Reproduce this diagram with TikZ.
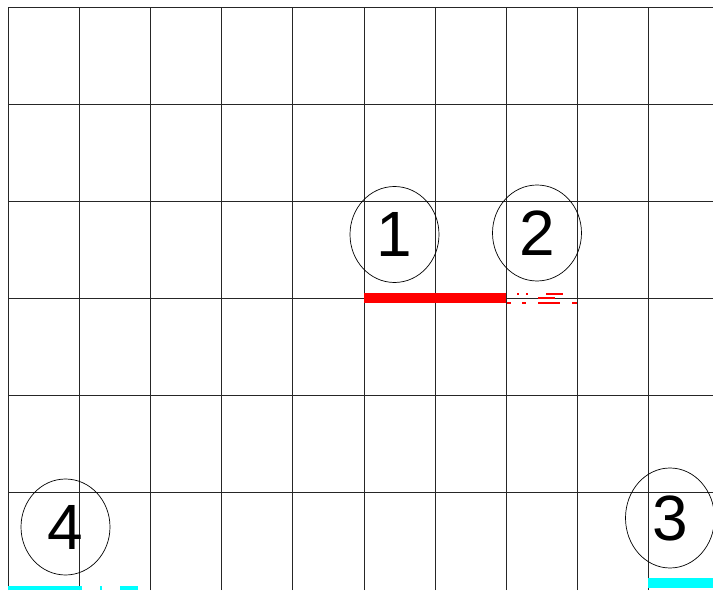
\documentclass[tikz,border=0pt]{standalone}
\usepackage{fontspec}
\setmainfont{Liberation Sans}
\usepackage{xcolor}
\usetikzlibrary{shapes.geometric}

\definecolor{aqua}{RGB}{0,255,255}
\definecolor{pured}{RGB}{255,0,0}

\tikzset{
	gridline/.style={line width=0.8pt,black!85},
	numring/.style={draw,ellipse,line width=0.7pt,inner sep=0pt,minimum width=89pt,minimum height=96pt,font=\fontsize{64}{64}\selectfont},
	redbar/.style={draw=pured,line width=10pt},
	redbit/.style={draw=pured,line width=2.2pt},
	cyanbar/.style={draw=aqua,line width=4pt}
}

\begin{document}
\begin{tikzpicture}[x=1pt,y=1pt]
\useasboundingbox (0,0) rectangle (713,590);
	% grid
	\draw[gridline] (8,0) -- (8,583) (79,0) -- (79,583) (150,0) -- (150,583)
		(221,0) -- (221,583) (292,0) -- (292,583) (364,0) -- (364,583)
		(435,0) -- (435,583) (506,0) -- (506,583) (577,0) -- (577,583)
		(648,0) -- (648,583);
	\draw[gridline] (8,583) -- (713,583) (8,486) -- (713,486) (8,389) -- (713,389)
		(8,292) -- (713,292) (8,195) -- (713,195) (8,98) -- (713,98);
	% marks
	\draw[redbar] (364,292) -- (506,292);
	\draw[redbit] (507,287) -- (511,287) (522,287) -- (526,287) (538,287) -- (560,287) (572,287) -- (577,287);
	\draw[redbit] (538,292) -- (555,292);
	\draw[redbit] (517,296) -- (519,296) (526,296) -- (528,296) (546,296) -- (563,296);
	\draw[cyanbar] (8,2) -- (82,2) (100,2) -- (102,2) (120,2) -- (138,2);
	\draw[draw=aqua,line width=10pt] (648,7) -- (713,7);
	% numbers
	\node[numring] at (394.5,355.5) (n1) {1};
	\node[numring] at (537,357) (n2) {2};
	\node[numring,minimum height=100pt] at (670,72) (n3) {3};
	\node[numring] at (65.5,63) (n4) {4};
\end{tikzpicture}
\end{document}
